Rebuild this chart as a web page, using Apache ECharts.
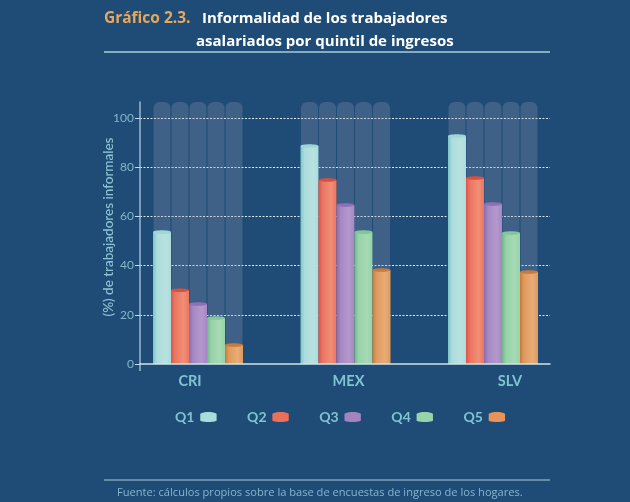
<!DOCTYPE html>
<html><head><meta charset="utf-8">
<style>html,body{margin:0;padding:0;background:#1f4c76}#c{width:630px;height:502px}</style>
<script src="https://cdn.jsdelivr.net/npm/echarts@6/dist/echarts.min.js"></script>
</head><body><div id="c"></div>
<script>
const categories = ['CRI','MEX','SLV'];
const quintiles = ['Q1','Q2','Q3','Q4','Q5'];
const q1 = [53.6, 88.6, 92.7];
const q2 = [30, 74.8, 75.6];
const q3 = [24.4, 64.6, 65];
const q4 = [18.7, 53.6, 53.2];
const q5 = [7.7, 38.2, 37.4];
const yTicks = [0,20,40,60,80,100];
const columnTop = 106.5;
const seriesValues = [q1,q2,q3,q4,q5];
const palette = [
 {edge:'#7cc4c8',mid:'#addcdc',light:'#b8e2e0',cap:'#9ed8d6',icon:'#aadcda'},
 {edge:'#d9564a',mid:'#ec7560',light:'#f08f76',cap:'#d9503f',icon:'#ec6f5a'},
 {edge:'#8a6aae',mid:'#a688c2',light:'#b498cc',cap:'#8f6fb5',icon:'#a484c0'},
 {edge:'#6fb68a',mid:'#97d2a8',light:'#a6dab4',cap:'#83c69a',icon:'#97d4a8'},
 {edge:'#c67a3c',mid:'#df9a5e',light:'#e8ac76',cap:'#c67a3c',icon:'#e8935a'}
];
const barW = 18;
function grad(p){return new echarts.graphic.LinearGradient(0,0,1,0,[
 {offset:0,color:p.edge},{offset:.22,color:p.mid},{offset:.7,color:p.light},{offset:1,color:p.mid}]);}
function render(si){return function(params,api){
  const cat=api.value(0), v=api.value(1);
  const c=api.coord([cat,0]);
  const x=c[0]+(si-2)*barW-barW/2, y0=c[1], y1=api.coord([cat,v])[1], yT=api.coord([cat,columnTop])[1];
  const p=palette[si];
  return {type:'group',children:[
    {type:'rect',shape:{x:x+.5,y:yT,width:barW-1,height:y0-yT,r:[6,6,0,0]},style:{fill:'rgba(150,150,180,0.27)'},z2:1},
    {type:'rect',shape:{x:x,y:y1,width:barW,height:y0-y1},style:{fill:grad(p)},z2:3},
    {type:'ellipse',shape:{cx:x+barW/2,cy:y1,rx:barW/2,ry:1.8},style:{fill:p.cap},z2:4}
  ]};
};}
const cyl='path://M0 2C2 .6 5 0 9 0S16 .6 18 2V9.5C15 10.6 12 11 9 11S3 10.6 0 9.5Z';
const labelFont={color:'#7fc4d0',fontSize:14,fontWeight:'bold',fontFamily:'Lato'};
const xFont=Object.assign({},labelFont,{fontSize:14.5});
const xRich={a:Object.assign({padding:[0,16,0,0]},xFont),
             b:Object.assign({padding:[0,0,0,6]},xFont),
             c:Object.assign({padding:[0,0,0,34]},xFont)};
const option={
 backgroundColor:'#1f4c76',
 animation:false,
 textStyle:{fontFamily:'Lato'},
 title:[
  {text:'Gráfico 2.3.',left:104,top:11,padding:0,textStyle:{color:'#e8a85c',fontSize:15.5,fontWeight:'bold',fontFamily:'Open Sans'}},
  {text:'Informalidad de los trabajadores',left:202,top:11,padding:0,textStyle:{color:'#fff',fontSize:15,fontWeight:'bold',fontFamily:'Open Sans'}},
  {text:'asalariados por quintil de ingresos',left:196,top:34,padding:0,textStyle:{color:'#fff',fontSize:15,fontWeight:'bold',fontFamily:'Open Sans'}},
  {text:'Fuente: cálculos propios sobre la base de encuestas de ingreso de los hogares.',left:117,top:487,padding:0,textStyle:{color:'#86b6cd',fontSize:11.1,fontWeight:'normal',fontFamily:'Open Sans'}}
 ],
 grid:[
  {left:140,width:410,top:102,height:262},
  {left:124.25,width:442.5,top:102,height:262}
 ],
 xAxis:[
  {gridIndex:0,type:'value',min:0,max:1,axisLabel:{show:false},axisTick:{show:false},splitLine:{show:false},z:5,
   axisLine:{show:true,lineStyle:{color:'#d2e4ec',width:1.5}}},
  {gridIndex:1,type:'category',data:categories,axisLine:{show:false},axisTick:{show:false},
   axisLabel:{margin:10,formatter:function(v,i){return '{'+'abc'[i]+'|'+v+'}';},rich:xRich}}
 ],
 yAxis:[
  {gridIndex:0,type:'value',min:0,max:columnTop,
   name:'(%) de trabajadores informales',nameLocation:'middle',nameGap:24,nameRotate:90,nameMoveOverlap:false,
   nameTextStyle:{color:'#8fc5d2',fontSize:13.5,fontWeight:500,fontFamily:'Lato',padding:[0,0,0,12]},
   axisLine:{show:true,lineStyle:{color:'#9db9d0',width:1.5}},
   axisTick:{show:true,length:5,customValues:yTicks,lineStyle:{color:'#c4dbe6'}},
   axisLabel:{customValues:yTicks,color:'#7fb8c8',fontSize:12,margin:6,fontFamily:'Lato'},
   splitLine:{show:true,showMinLine:false,lineStyle:{color:'#dfe8ee',type:[2,1.5],width:1}}},
  {gridIndex:1,type:'value',min:0,max:columnTop,show:false,splitLine:{show:false}}
 ],
 legend:{
  left:175,top:410,padding:0,align:'right',itemWidth:18,itemHeight:10,itemGap:30.5,
  data:quintiles,
  textStyle:labelFont,
  icon:cyl
 },
 graphic:[
  {type:'line',silent:true,shape:{x1:104,y1:52,x2:550,y2:52},style:{stroke:'#a9cdd9',lineWidth:1.3}},
  {type:'line',silent:true,shape:{x1:104,y1:480,x2:550,y2:480},style:{stroke:'#a9cdd9',lineWidth:1}},
  {type:'line',silent:true,shape:{x1:140,y1:364,x2:140,y2:371},style:{stroke:'#9db9d0',lineWidth:1.5}}
 ],
 series:quintiles.map(function(name,si){return{
  type:'custom',name:name,xAxisIndex:1,yAxisIndex:1,
  itemStyle:{color:palette[si].icon},
  encode:{x:0,y:1},
  data:seriesValues[si].map(function(v,i){return [i,v];}),
  renderItem:render(si),z:3
 };})
};
echarts.init(document.getElementById('c'),null,{renderer:'canvas'}).setOption(option);
</script></body></html>
